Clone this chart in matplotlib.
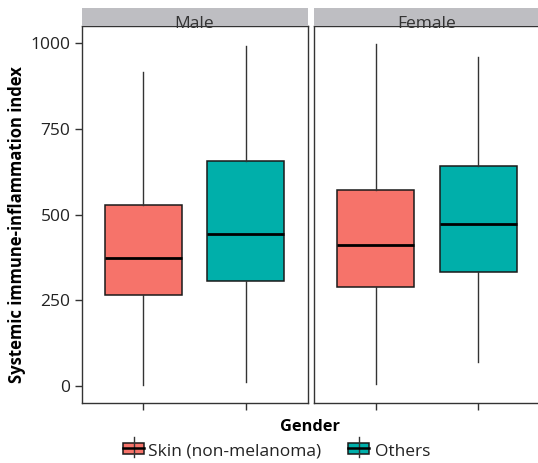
import matplotlib
matplotlib.use("Agg")
import matplotlib.pyplot as plt
from matplotlib.patches import Rectangle
from matplotlib.lines import Line2D

plt.rcParams['font.family'] = ['Open Sans', 'DejaVu Sans']

panels = ["Male", "Female"]
groups = ["Skin (non-melanoma)", "Others"]
colors = ["#F6736A", "#00AFAA"]

# per panel, per group: whislo, q1, med, q3, whishi
whislo = {"Male": [3, 11], "Female": [5, 70]}
q1 = {"Male": [264, 305], "Female": [288, 332]}
med = {"Male": [374, 443], "Female": [411, 472]}
q3 = {"Male": [527, 657], "Female": [572, 642]}
whishi = {"Male": [917, 993], "Female": [997, 959]}

yticks = [0, 250, 500, 750, 1000]

W, H = 538, 463
fig = plt.figure(figsize=(W / 100, H / 100), dpi=100)

def fx(px):
    return px / W

def fy(py):
    return 1 - py / H

panel_left = [81.5, 314.0]
panel_w = 226.0
panel_top, panel_bot = 26.0, 402.7
strip_top = 8.0

for i, p in enumerate(panels):
    ax = fig.add_axes([fx(panel_left[i]), fy(panel_bot), panel_w / W, (panel_bot - panel_top) / H])
    stats = []
    for j in range(len(groups)):
        stats.append(dict(whislo=whislo[p][j], q1=q1[p][j], med=med[p][j],
                          q3=q3[p][j], whishi=whishi[p][j], fliers=[]))
    bp = ax.bxp(stats, positions=[1, 2], widths=0.75, patch_artist=True,
                showcaps=False,
                boxprops=dict(edgecolor="#1a1a1a", linewidth=1.1),
                medianprops=dict(color="black", linewidth=2.0),
                whiskerprops=dict(color="#333333", linewidth=1.0))
    for patch, c in zip(bp['boxes'], colors):
        patch.set_facecolor(c)
    ax.set_xlim(0.4, 2.6)
    ax.set_ylim(-49.6, 1050.5)
    ax.set_xticks([1, 2])
    ax.set_xticklabels([])
    ax.tick_params(axis='x', length=5, color="#333333", width=1)
    if i == 0:
        ax.set_yticks(yticks)
        ax.set_yticklabels([str(v) for v in yticks], fontsize=12.5, color="#222222")
        ax.tick_params(axis='y', length=5, color="#333333", width=1, pad=3)
    else:
        ax.set_yticks([])
    for s in ax.spines.values():
        s.set_color("#333333")
        s.set_linewidth(1.0)
    # strip
    fig.add_artist(Rectangle((fx(panel_left[i]), fy(panel_top)), panel_w / W,
                             (panel_top - strip_top) / H, facecolor="#BEBEC2",
                             edgecolor="none", transform=fig.transFigure, zorder=1))
    fig.text(fx(panel_left[i] + panel_w / 2), fy(24.5), p, ha='center', va='center',
             fontsize=12.5, color="#333333", zorder=3)

fig.text(fx(17), fy(225), "Systemic immune-inflammation index", rotation=90,
         ha='center', va='center', fontsize=12, fontweight='bold', color="black")
fig.text(fx(310), fy(427), "Gender", ha='center', va='center',
         fontsize=11.8, fontweight='bold', color="black")

# legend
key_x = [123, 348]
text_x = [148, 375]
ky = 448
for k in range(len(groups)):
    x0 = key_x[k]
    fig.add_artist(Line2D([fx(x0 + 10.5)] * 2, [fy(ky - 11), fy(ky + 9)],
                          color="#333333", lw=1, transform=fig.transFigure))
    fig.add_artist(Rectangle((fx(x0), fy(ky + 5.5)), 21 / W, 11 / H,
                             facecolor=colors[k], edgecolor="#1a1a1a", lw=1.1,
                             transform=fig.transFigure))
    fig.add_artist(Line2D([fx(x0), fx(x0 + 21)], [fy(ky)] * 2,
                          color="black", lw=1.8, transform=fig.transFigure))
    fig.text(fx(text_x[k]), fy(452), groups[k], ha='left', va='center',
             fontsize=12.5, color="#222222")

fig.savefig("out.png", dpi=100)
